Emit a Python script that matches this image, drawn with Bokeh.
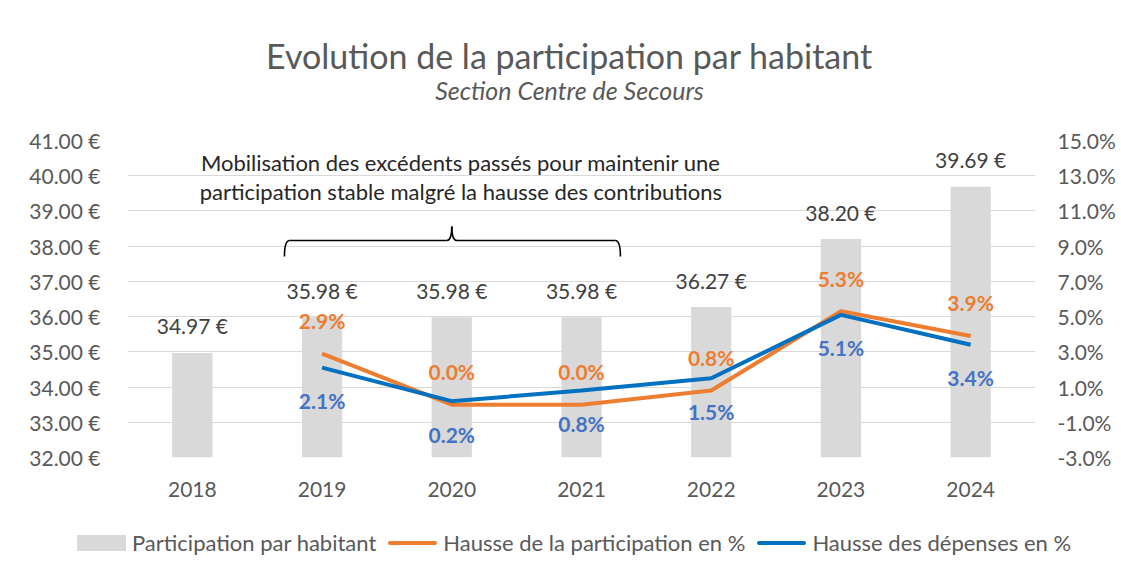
from bokeh.plotting import figure
from bokeh.layouts import column
from bokeh.core.properties import value
from bokeh.models import (Range1d, LinearAxis, FixedTicker, PrintfTickFormatter, ColumnDataSource,
                          LabelSet, Label, FactorRange, Div)
from bokeh.embed import file_html
from bokeh.resources import INLINE

years = ["2018", "2019", "2020", "2021", "2022", "2023", "2024"]
participation = [34.97, 35.98, 35.98, 35.98, 36.27, 38.20, 39.69]
line_years = ["2019", "2020", "2021", "2022", "2023", "2024"]
hausse_participation = [2.9, 0.0, 0.0, 0.8, 5.3, 3.9]
hausse_depenses = [2.1, 0.2, 0.8, 1.5, 5.1, 3.4]
left_ticks = [32, 33, 34, 35, 36, 37, 38, 39, 40, 41]
right_ticks = [-3, -1, 1, 3, 5, 7, 9, 11, 13, 15]
legend_labels = ["Participation par habitant", "Hausse de la participation en %",
                 "Hausse des dépenses en %"]

FONT = "Lato"
GRAY = "#595959"
BAR = "#D9D9D9"
ORANGE = "#ED7D31"
BLUE = "#0070C0"
BLUE_LBL = "#4472C4"
W = 1121
FL, FR = 127, 1035   # frame left / right in page pixels

# ---- header (title + subtitle); frame is aligned with the main chart frame
head = figure(width=W, height=110, x_range=Range1d(FL, FR), y_range=Range1d(0, 110),
              x_axis_type=None, y_axis_type=None, output_backend="svg",
              toolbar_location=None, min_border=0)
head.grid.visible = False
head.outline_line_color = None
head.add_layout(Label(x=569, y=110 - 55, text="Evolution de la participation par habitant",
                      text_align="center", text_baseline="middle", text_font=FONT,
                      text_font_size="34px", text_color=GRAY))
head.add_layout(Label(x=569, y=110 - 89, text="Section Centre de Secours",
                      text_align="center", text_baseline="middle", text_font=FONT,
                      text_font_style="italic", text_font_size="25px", text_color=GRAY))

# ---- main chart
p = figure(width=W, height=405, x_range=FactorRange(*years, range_padding=0),
           y_range=Range1d(32, 41), output_backend="svg", toolbar_location=None,
           min_border_left=FL, min_border_right=W - FR, min_border_top=30, min_border_bottom=58)
p.extra_y_ranges = {"pct": Range1d(-3, 15)}
p.outline_line_color = None
p.xgrid.grid_line_color = None
p.ygrid.grid_line_color = BAR
p.ygrid.grid_line_width = 1
p.ygrid.ticker = FixedTicker(ticks=left_ticks)

ya = p.yaxis[0]
ya.ticker = FixedTicker(ticks=left_ticks)
ya.formatter = PrintfTickFormatter(format="%.2f €")
ra = LinearAxis(y_range_name="pct", ticker=FixedTicker(ticks=right_ticks),
                formatter=PrintfTickFormatter(format="%.1f%%"))
p.add_layout(ra, "right")
for ax in [ya, ra, p.xaxis[0]]:
    ax.axis_line_color = None
    ax.major_tick_line_color = None
    ax.minor_tick_line_color = None
    ax.major_tick_out = 0
    ax.major_tick_in = 0
    ax.minor_tick_out = 0
    ax.major_label_text_font = FONT
    ax.major_label_text_font_size = "21px"
    ax.major_label_text_color = GRAY
ya.major_label_standoff = 27
ra.major_label_standoff = 22
p.xaxis[0].major_label_standoff = 24

# bars
src_bar = ColumnDataSource(dict(x=years, top=participation,
                                lbl=["%.2f €" % v for v in participation]))
p.vbar(x="x", top="top", bottom=32, width=0.31, source=src_bar,
       fill_color=BAR, line_color=None)
p.add_layout(LabelSet(x="x", y="top", text="lbl", source=src_bar, text_align="center",
                      text_baseline="middle", y_offset=27, text_font=value(FONT),
                      text_font_size="21px", text_color="#404040"))

# lines
src_l = ColumnDataSource(dict(x=line_years, o=hausse_participation, b=hausse_depenses,
                              ol=["%.1f%%" % v for v in hausse_participation],
                              bl=["%.1f%%" % v for v in hausse_depenses]))
p.line(x="x", y="o", source=src_l, y_range_name="pct", line_color=ORANGE, line_width=4)
p.line(x="x", y="b", source=src_l, y_range_name="pct", line_color=BLUE, line_width=4)
p.add_layout(LabelSet(x="x", y="o", text="ol", source=src_l, y_range_name="pct",
                      text_align="center", text_baseline="middle", y_offset=33,
                      text_font=value(FONT), text_font_size="21px", text_font_style="bold",
                      text_color=ORANGE))
p.add_layout(LabelSet(x="x", y="b", text="bl", source=src_l, y_range_name="pct",
                      text_align="center", text_baseline="middle", y_offset=-33,
                      text_font=value(FONT), text_font_size="21px", text_font_style="bold",
                      text_color=BLUE_LBL))

# brace annotation spanning 2019..2021
i0 = years.index("2019") + 0.5 - 0.29
i1 = years.index("2021") + 0.5 + 0.30
im = years.index("2020") + 0.5
yb, ye, yt = 38.16, 37.71, 38.56
d = 0.04
bk = dict(line_color="black", line_width=1.6)
p.quadratic(x0=[i0], y0=[ye], x1=[i0 + d], y1=[yb], cx=[i0], cy=[yb], **bk)
p.segment(x0=[i0 + d, im + d], y0=[yb, yb], x1=[im - d, i1 - d], y1=[yb, yb], **bk)
p.quadratic(x0=[im - d], y0=[yb], x1=[im], y1=[yt], cx=[im], cy=[yb], **bk)
p.quadratic(x0=[im], y0=[yt], x1=[im + d], y1=[yb], cx=[im], cy=[yb], **bk)
p.quadratic(x0=[i1 - d], y0=[yb], x1=[i1], y1=[ye], cx=[i1], cy=[yb], **bk)

note1 = "Mobilisation des excédents passés pour maintenir une"
note2 = "participation stable malgré la hausse des contributions"
for txt, yy in [(note1, 40.38), (note2, 39.56)]:
    p.add_layout(Label(x=im + 0.07, y=yy, text=txt, text_align="center", text_baseline="middle",
                       text_font=FONT, text_font_size="22px", text_color="#262626"))

# ---- legend strip
swatches = [(BAR, 16), (ORANGE, 4), (BLUE, 4)]
parts = []
for (col, h), lab in zip(swatches, legend_labels):
    parts.append('<span style="display:inline-block;width:49px;height:%dpx;background:%s;'
                 'margin-right:6px;border-radius:%s"></span>' % (h, col, "0" if h > 4 else "2px"))
    parts.append('<span style="margin-right:12px">%s</span>' % lab)
html = ('<div style="display:flex;align-items:center;height:46px;padding-left:72px;'
        'font-family:Lato;font-size:22px;color:%s;white-space:nowrap">%s</div>'
        % (GRAY, "".join(parts)))
leg = Div(text=html, width=W, height=55)

layout = column(head, p, leg, spacing=0)
open("out.html", "w").write(file_html(layout, INLINE))
